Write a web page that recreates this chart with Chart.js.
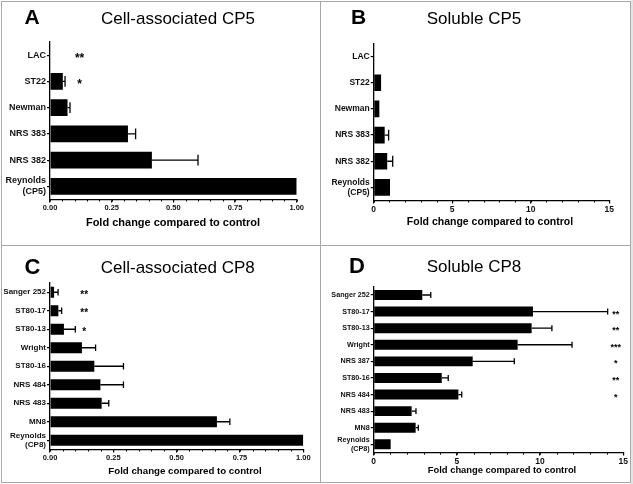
<!DOCTYPE html>
<html><head><meta charset="utf-8">
<script src="https://cdn.jsdelivr.net/npm/chart.js@4.4.1/dist/chart.umd.min.js"></script>
<style>
html,body{margin:0;padding:0;background:#fff;}
#wrap{position:relative;width:633px;height:484px;overflow:hidden;background:#fff;}
canvas{position:absolute;left:0;top:0;}
.ln{position:absolute;background:#a8a8a8;}
</style></head><body>
<div id="wrap">
<div class="ln" style="left:1px;top:1px;width:630px;height:1px"></div>
<div class="ln" style="left:1px;top:482px;width:630px;height:1px"></div>
<div class="ln" style="left:1px;top:1px;width:1px;height:482px"></div>
<div class="ln" style="left:630px;top:1px;width:1px;height:482px"></div>
<div style="position:absolute;left:631px;top:0;width:2px;height:484px;background:#e4e4e4"></div>
<div class="ln" style="left:320px;top:1px;width:1px;height:482px"></div>
<div class="ln" style="left:1px;top:245px;width:630px;height:1px"></div>
<canvas id="cA" width="633" height="484"></canvas>
<canvas id="cB" width="633" height="484"></canvas>
<canvas id="cC" width="633" height="484"></canvas>
<canvas id="cD" width="633" height="484"></canvas>
</div>
<script>
// ---- data ----
const cp5Strains = ['LAC', 'ST22', 'Newman', 'NRS 383', 'NRS 382', ['Reynolds', '(CP5)']];
const cellCP5 = [0, 0.052, 0.071, 0.316, 0.413, 1.0];
const cellCP5Err = [null, 0.061, 0.081, 0.347, 0.600, null];
const cellCP5Sig = ['**', '*', '', '', '', ''];

const solCP5 = [0, 0.47, 0.36, 0.70, 0.86, 1.04];
const solCP5Err = [null, null, null, 0.95, 1.21, null];
const solCP5Sig = ['', '', '', '', '', ''];

const cp8CellStrains = ['Sanger 252', 'ST80-17', 'ST80-13', 'Wright', 'ST80-16', 'NRS 484', 'NRS 483', 'MN8', ['Reynolds', '(CP8)']];
const cellCP8 = [0.016, 0.033, 0.055, 0.126, 0.175, 0.199, 0.204, 0.659, 1.0];
const cellCP8Err = [0.032, 0.046, 0.10, 0.18, 0.29, 0.29, 0.232, 0.71, null];
const cellCP8Sig = ['**', '**', '*', '', '', '', '', '', ''];

const cp8SolStrains = ['Sanger 252', 'ST80-17', 'ST80-13', 'Wright', 'NRS 387', 'ST80-16', 'NRS 484', 'NRS 483', 'MN8', ['Reynolds', '(CP8)']];
const solCP8 = [2.92, 9.57, 9.49, 8.65, 5.95, 4.09, 5.09, 2.28, 2.52, 1.02];
const solCP8Err = [3.43, 14.06, 10.71, 11.92, 8.45, 4.48, 5.29, 2.54, 2.68, null];
const solCP8Sig = ['', '**', '**', '***', '*', '**', '*', '', '', ''];

const fractionTicks = [0, 0.25, 0.5, 0.75, 1.0];
const foldTicks = [0, 5, 10, 15];
const xTitle = 'Fold change compared to control';

// ---- drawing ----
const FF = '"Liberation Sans", Arial, Helvetica, sans-serif';
const W = 633, H = 484;

function makePanel(p) {
  const decor = {
    id: 'decor' + p.letter,
    afterDatasetsDraw(chart) {
      const ctx = chart.ctx, xs = chart.scales.x, ys = chart.scales.y;
      const meta = chart.getDatasetMeta(0);
      ctx.save();
      ctx.strokeStyle = '#000';
      ctx.lineWidth = 1.3;
      p.errs.forEach((e, i) => {
        if (e == null) return;
        const bar = meta.data[i];
        const y = bar.y;
        const x0 = xs.getPixelForValue(p.values[i]);
        const x1 = xs.getPixelForValue(e);
        const c = bar.height * p.capFrac / 2;
        ctx.beginPath();
        ctx.moveTo(x0, y); ctx.lineTo(x1, y);
        ctx.moveTo(x1, y - c); ctx.lineTo(x1, y + c);
        ctx.stroke();
      });
      // minor ticks
      ctx.lineWidth = 1;
      const yb = chart.chartArea.bottom;
      for (let v = 0; v <= p.xMax + 1e-9; v += p.minor) {
        const x = Math.round(xs.getPixelForValue(v)) + 0.5;
        ctx.beginPath(); ctx.moveTo(x, yb); ctx.lineTo(x, yb + 2); ctx.stroke();
      }
      // significance stars
      ctx.fillStyle = '#000';
      ctx.font = 'bold ' + p.starFont + 'px ' + FF;
      ctx.textAlign = 'center';
      ctx.textBaseline = 'middle';
      p.sig.forEach((s, i) => {
        if (!s) return;
        ctx.fillText(s, xs.getPixelForValue(p.starAt), ys.getPixelForValue(i) + p.starFont * 0.28);
      });
      // panel letter and title
      ctx.font = 'bold ' + p.letterFont + 'px ' + FF;
      ctx.fillText(p.letter, p.letterPos[0], p.letterPos[1]);
      ctx.font = p.titleFont + 'px ' + FF;
      ctx.fillText(p.title, p.titlePos[0], p.titlePos[1]);
      ctx.font = 'bold ' + p.xTitleFont + 'px ' + FF;
      ctx.fillText(xTitle, p.xTitlePos[0], p.xTitlePos[1]);
      ctx.restore();
    }
  };
  const yW = 46, xH = 14;
  return new Chart(document.getElementById(p.id), {
    type: 'bar',
    data: {
      labels: p.labels,
      datasets: [{ data: p.values, backgroundColor: '#000', borderWidth: 0,
        barPercentage: p.barPct, categoryPercentage: 1 }]
    },
    options: {
      indexAxis: 'y', responsive: false, animation: false,
      events: [],
      layout: { padding: { left: p.area.left - yW, top: p.area.top, right: W - p.area.right, bottom: H - p.area.bottom - xH } },
      plugins: { legend: { display: false }, tooltip: { enabled: false }, title: { display: false } },
      scales: {
        x: {
          type: 'linear', min: 0, max: p.xMax,
          afterBuildTicks(s) { s.ticks = p.ticks.map(v => ({ value: v })); },
          ticks: { font: { size: p.xTickFont, weight: 'bold', family: FF }, color: '#111', padding: 1,
            maxRotation: 0, autoSkip: false, callback: v => p.fmt(v) },
          grid: { drawOnChartArea: false, drawTicks: true, tickLength: 3, color: '#000', lineWidth: 1.2 },
          border: { display: true, color: '#000', width: 1.3 },
          afterFit(s) { s.height = xH; }
        },
        y: {
          ticks: { font: { size: p.yFont, weight: 'bold', family: FF }, color: '#111', padding: 1, autoSkip: false },
          grid: { offset: false, drawOnChartArea: false, drawTicks: true, tickLength: 3, color: '#000', lineWidth: 1.2 },
          border: { display: true, color: '#000', width: 1.3 },
          afterFit(s) { s.width = yW; }
        }
      }
    },
    plugins: [decor]
  });
}

makePanel({
  id: 'cA', letter: 'A', title: 'Cell-associated CP5',
  labels: cp5Strains, values: cellCP5, errs: cellCP5Err, sig: cellCP5Sig,
  area: { left: 50, right: 296.7, top: 42, bottom: 199.5 },
  xMax: 1, ticks: fractionTicks, minor: 0.05, fmt: v => v.toFixed(2),
  barPct: 0.64, capFrac: 0.65, yFont: 9, xTickFont: 7.5, starFont: 12, starAt: 0.12,
  letterFont: 21, letterPos: [32, 18], titleFont: 17, titlePos: [178, 19],
  xTitleFont: 11, xTitlePos: [173, 223]
});
makePanel({
  id: 'cB', letter: 'B', title: 'Soluble CP5',
  labels: cp5Strains, values: solCP5, errs: solCP5Err, sig: solCP5Sig,
  area: { left: 373.7, right: 609.3, top: 43.5, bottom: 200.5 },
  xMax: 15, ticks: foldTicks, minor: 1, fmt: v => String(v),
  barPct: 0.64, capFrac: 0.65, yFont: 8.5, xTickFont: 8.5, starFont: 12, starAt: 14.5,
  letterFont: 21, letterPos: [358.5, 18], titleFont: 17, titlePos: [474, 19],
  xTitleFont: 10.5, xTitlePos: [490, 222]
});
makePanel({
  id: 'cC', letter: 'C', title: 'Cell-associated CP8',
  labels: cp8CellStrains, values: cellCP8, errs: cellCP8Err, sig: cellCP8Sig,
  area: { left: 50, right: 303.3, top: 283, bottom: 449.5 },
  xMax: 1, ticks: fractionTicks, minor: 0.05, fmt: v => v.toFixed(2),
  barPct: 0.6, capFrac: 0.6, yFont: 8, xTickFont: 7.5, starFont: 10, starAt: 0.135,
  letterFont: 22, letterPos: [32.5, 268], titleFont: 17, titlePos: [177.7, 268],
  xTitleFont: 9.7, xTitlePos: [185, 471]
});
makePanel({
  id: 'cD', letter: 'D', title: 'Soluble CP8',
  labels: cp8SolStrains, values: solCP8, errs: solCP8Err, sig: solCP8Sig,
  area: { left: 373.7, right: 623.3, top: 286.7, bottom: 452.6 },
  xMax: 15, ticks: foldTicks, minor: 1, fmt: v => String(v),
  barPct: 0.6, capFrac: 0.6, yFont: 7.2, xTickFont: 8.5, starFont: 9, starAt: 14.55,
  letterFont: 22, letterPos: [357, 267], titleFont: 17, titlePos: [474, 267],
  xTitleFont: 9.4, xTitlePos: [502, 470]
});
</script>
</body></html>
